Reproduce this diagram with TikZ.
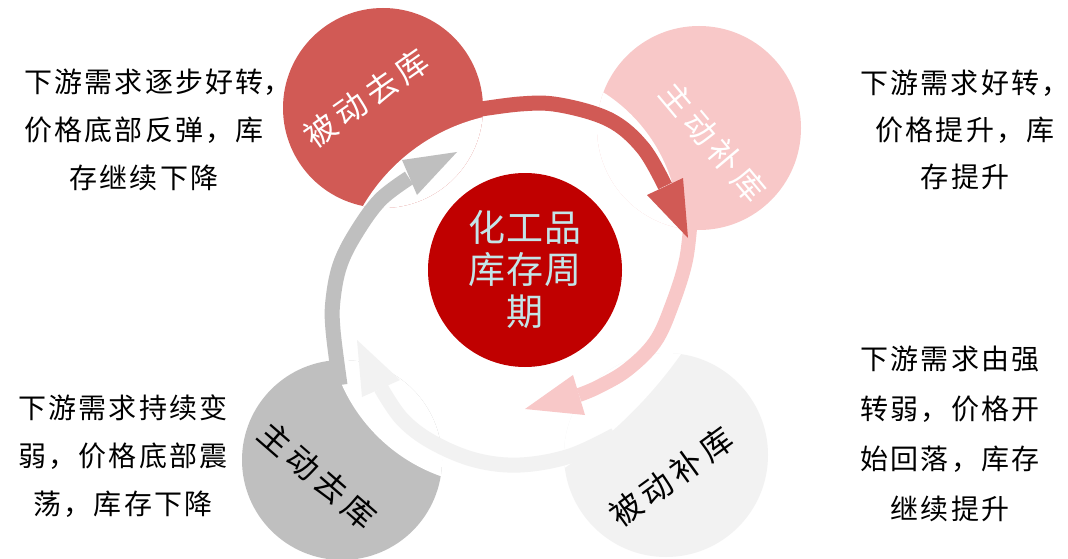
\documentclass[tikz,border=0pt]{standalone}
\usepackage{fontspec}
\setmainfont{Noto Sans CJK SC}
\newfontfamily\cjkbody[LetterSpace=8]{Noto Sans CJK SC}
\newfontfamily\cjklabel[LetterSpace=16]{Noto Sans CJK SC}
\newfontfamily\cjkhub[LetterSpace=4]{Noto Sans CJK SC}
\definecolor{cRed}{HTML}{D15A55}
\definecolor{cPink}{HTML}{F8C8C8}
\definecolor{cGray}{HTML}{BFBFBF}
\definecolor{cLight}{HTML}{F2F2F2}
\definecolor{cHub}{HTML}{C00000}
\definecolor{cHubText}{HTML}{C3E5E8}
\begin{document}
\begin{tikzpicture}[x=1pt,y=-1pt,
  stage/.style={circle, inner sep=0pt, minimum size=#1},
  desc/.style={font=\cjkbody\fontsize{28}{48}\selectfont, align=center, text=black, inner sep=0pt},
  lbl/.style={font=\cjklabel\fontsize{32}{36}\selectfont, inner sep=0pt},
  shaft/.style={line width=15pt, line cap=butt}]
\useasboundingbox (0,0) rectangle (1068,559);
\fill[white] (0,0) rectangle (1068,559);

% stage circles
\node[stage=200pt, fill=cRed]   (s1) at (383,108) {};
\node[stage=204pt, fill=cPink]  (s2) at (699,128) {};
\node[stage=200pt, fill=cGray]  (s3) at (342,460) {};
\node[stage=204pt, fill=cLight] (s4) at (666,455) {};

% white cuts made by the ring
\begin{scope}\clip (s1.center) circle[radius=100pt]; \fill[white] (527,302) circle[radius=190pt]; \end{scope}
\begin{scope}\clip (s2.center) circle[radius=102pt]; \fill[white] (516,230) circle[radius=163pt]; \end{scope}
\begin{scope}\clip (s3.center) circle[radius=100pt]; \fill[white] (498,315) circle[radius=171pt]; \end{scope}
\begin{scope}\clip (s4.center) circle[radius=102pt]; \fill[white] (312,93) circle[radius=452pt]; \end{scope}

% arrow coordinates
% light gray: s4 -> s3
\coordinate (a4s) at (615,435);
\coordinate (a4b) at (381,388);
\coordinate (a4t) at (357,340);
\coordinate (a4w1) at (400,380);
\coordinate (a4w2) at (362,397);
% gray: s3 -> s1
\coordinate (a3s) at (340,385);
\coordinate (a3b) at (409,178);
\coordinate (a3t) at (457,152);
\coordinate (a3w1) at (402,160);
\coordinate (a3w2) at (417,195);
% pink: s2 -> s4
\coordinate (a2s) at (691,215);
\coordinate (a2b) at (579,395);
\coordinate (a2t) at (525,409);
\coordinate (a2w1) at (573,375);
\coordinate (a2w2) at (585,415);
% red: s1 -> s2
\coordinate (a1s) at (462,112);
\coordinate (a1b) at (665,186);
\coordinate (a1t) at (688,238);
\coordinate (a1w1) at (647,195);
\coordinate (a1w2) at (683,178);

% arrows
\draw[shaft, cLight] plot[smooth, tension=0.6] coordinates {(a4s) (570,456) (520,465) (475,460) (432,442) (402,419) (a4b)};
\fill[cLight] (a4w1) -- (a4t) -- (a4w2) -- cycle;

\draw[shaft, cGray] plot[smooth, tension=0.6] coordinates {(a3s) (333,330) (333,300) (340,265) (356,233) (380,200) (a3b)};
\fill[cGray] (a3w1) -- (a3t) -- (a3w2) -- cycle;

\draw[shaft, line width=14pt, cPink] plot[smooth, tension=0.6] coordinates {(a2s) (686,260) (672,305) (655,342) (627,370) (598,387) (a2b)};
\fill[cPink] (a2w1) -- (a2t) -- (a2w2) -- cycle;

\draw[shaft, cRed] plot[smooth, tension=0.6] coordinates {(a1s) (520,104) (560,105) (610,120) (643,148) (a1b)};
\fill[cRed] (a1w1) -- (a1t) -- (a1w2) -- cycle;

% hub
\node[stage=194pt, fill=cHub, text=cHubText, align=center,
      font=\cjkhub\fontsize{37}{42}\selectfont] (hub) at (525,270) {化工品\\库存周\\期};

% stage labels
\node[lbl, text=white, rotate=35]  (l1) at (366,98)  {被动去库};
\node[lbl, text=white, rotate=-50] (l2) at (713,142) {主动补库};
\node[lbl, text=black, rotate=-41] (l3) at (318,475) {主动去库};
\node[lbl, text=black, rotate=36]  (l4) at (671,477) {被动补库};

% descriptions
\node[desc] (d1) at (144,130) {下游需求逐步好转\rlap{，}\\价格底部反弹，库\\存继续下降};
\node[desc, font=\cjkbody\fontsize{28}{47}\selectfont] (d2) at (965,130) {下游需求好转，\\价格提升，库\\存提升};
\node[desc, font=\cjkbody\fontsize{28}{50}\selectfont] (d3) at (950,434) {下游需求由强\\转弱，价格开\\始回落，库存\\继续提升};
\node[desc] (d4) at (123,456) {下游需求持续变\\弱，价格底部震\\荡，库存下降};
\end{tikzpicture}
\end{document}
